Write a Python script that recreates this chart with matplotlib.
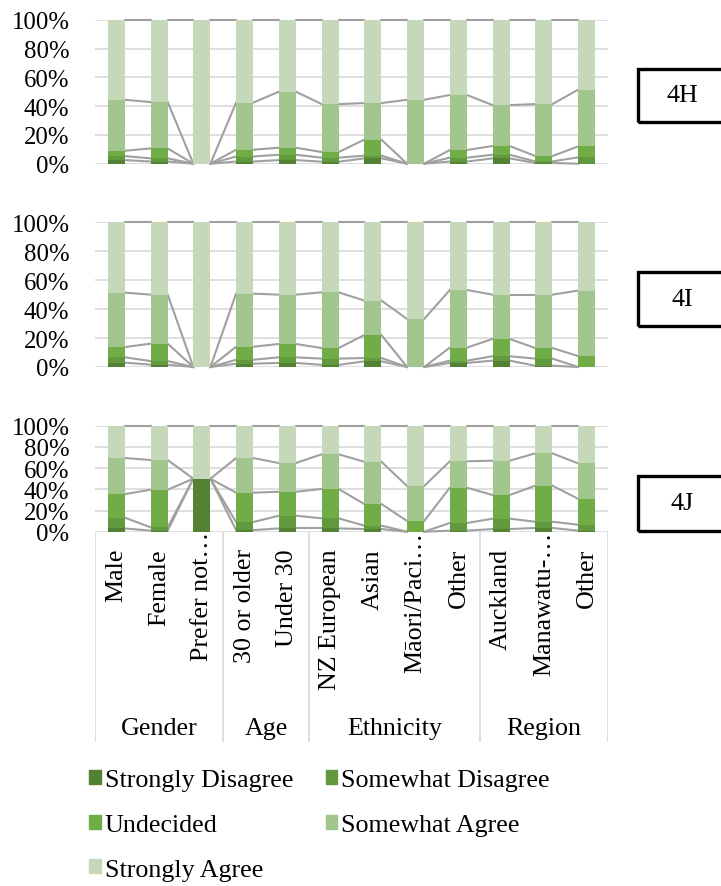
import numpy as np
import matplotlib.pyplot as plt
from matplotlib.patches import Patch, Rectangle

plt.rcParams['font.family'] = 'Liberation Serif'

categories = ["Male", "Female", "Prefer not…", "30 or older", "Under 30",
              "NZ European", "Asian", "Māori/Paci…", "Other",
              "Auckland", "Manawatu-…", "Other"]
groups = ["Gender", "Age", "Ethnicity", "Region"]
group_sizes = [3, 2, 4, 3]
series = ["Strongly Disagree", "Somewhat Disagree", "Undecided",
          "Somewhat Agree", "Strongly Agree"]
colors = ["#548235", "#62993e", "#70ad47", "#a2c58e", "#c5d9ba"]

# 4H
h_sd = [2.5, 1.5, 0, 1.5, 2.5, 1.4, 3.7, 0, 1.5, 3.7, 0.5, 0]
h_sod = [2.8, 2.2, 0, 3.5, 3.7, 2.8, 1.9, 0, 2.7, 2.5, 1.1, 4.4]
h_u = [3.7, 6.9, 0, 4.7, 4.9, 3.9, 11.1, 0, 5.3, 6.1, 3.7, 7.6]
h_sa = [35.4, 32.2, 0, 32.7, 38.9, 33.3, 25.4, 44.4, 38.2, 28.4, 36.1, 39.4]
h_sta = [55.6, 57.2, 100, 57.6, 50.0, 58.6, 57.9, 55.6, 52.3, 59.3, 58.6, 48.6]

# 4I
i_sd = [3.0, 1.6, 0, 2.3, 2.8, 1.5, 3.9, 0, 2.8, 4.4, 0.9, 0]
i_sod = [3.7, 2.5, 0, 2.7, 3.9, 4.3, 2.3, 0, 1.6, 3.0, 4.9, 0]
i_u = [7.1, 12.0, 0, 9.0, 9.2, 7.3, 15.9, 0, 9.0, 12.0, 7.3, 7.6]
i_sa = [37.6, 33.9, 0, 36.7, 34.1, 38.5, 23.8, 33.2, 39.8, 30.6, 36.9, 45.2]
i_sta = [48.6, 50.0, 100, 49.3, 50.0, 48.4, 54.1, 66.8, 46.8, 50.0, 50.0, 47.2]

# 4J
j_sd = [3.1, 1.0, 50, 1.5, 3.1, 3.1, 2.5, 0, 1.0, 2.5, 3.5, 1.0]
j_sod = [10.1, 3.1, 0, 7.6, 12.0, 9.5, 3.2, 0, 7.2, 9.8, 5.9, 5.6]
j_u = [22.3, 35.5, 0, 27.7, 22.6, 27.7, 20.4, 10.1, 33.3, 22.3, 34.0, 24.5]
j_sa = [34.0, 28.0, 0, 32.7, 27.1, 32.7, 39.9, 33.0, 24.9, 32.4, 30.5, 33.4]
j_sta = [30.5, 32.4, 50, 30.5, 35.2, 27.0, 34.0, 56.9, 33.6, 33.0, 26.1, 35.5]

panels = [("4H", [h_sd, h_sod, h_u, h_sa, h_sta]),
          ("4I", [i_sd, i_sod, i_u, i_sa, i_sta]),
          ("4J", [j_sd, j_sod, j_u, j_sa, j_sta])]

W, H = 721, 887
fig = plt.figure(figsize=(W / 100, H / 100), dpi=100)


def rect(x0, y0, x1, y1):
    return [x0 / W, 1 - y1 / H, (x1 - x0) / W, (y1 - y0) / H]


fs = 18.7
axes_px = [(20.7, 164.7), (223.3, 368), (426.7, 532.7)]
box_px = [(70, 123), (273, 327), (477, 532)]
x = np.arange(len(categories))
bw = 0.4

for (name, vals), (top, bot), (by0, by1) in zip(panels, axes_px, box_px):
    ax = fig.add_axes(rect(95, top, 608, bot))
    bottom = np.zeros(len(categories))
    for v, c in zip(vals, colors):
        v = np.array(v, dtype=float)
        ax.bar(x, v, bw, bottom=bottom, color=c, zorder=2)
        bottom = bottom + v
        # series lines joining the segment tops of neighbouring bars
        for k in range(len(x) - 1):
            ax.plot([x[k] + bw / 2, x[k + 1] - bw / 2], [bottom[k], bottom[k + 1]],
                    color="#a0a0a0", lw=1.5, zorder=1, clip_on=False)
    ax.set_xlim(-0.5, len(categories) - 0.5)
    ax.set_ylim(0, 100)
    ax.set_yticks(range(0, 101, 20))
    ax.set_yticklabels([f"{t}%" for t in range(0, 101, 20)], fontsize=17.8)
    ax.set_xticks([])
    ax.yaxis.grid(True, color="#d9d9d9", lw=1.2, zorder=0)
    ax.set_axisbelow(True)
    ax.tick_params(axis="y", length=0, pad=18.5)
    for s in ax.spines.values():
        s.set_visible(False)

    fig.add_artist(Rectangle((638 / W, 1 - by1 / H), (726 - 638) / W, (by1 - by0) / H,
                             transform=fig.transFigure, fill=False, lw=2.4, ec="black"))
    fig.text(682 / W, 1 - (by0 + by1) / 2 / H, name, ha="center", va="center", fontsize=fs)

# two-level category axis under the last panel
axl = fig.add_axes(rect(95, 533, 608, 743))
axl.set_xlim(-0.5, len(categories) - 0.5)
axl.set_ylim(743, 533)
axl.axis("off")
bounds = np.concatenate([[0], np.cumsum(group_sizes)]) - 0.5
axl.vlines(bounds, 533, 743, color="#d9d9d9", lw=1.2)
for k, cat in enumerate(categories):
    # shortened labels run up to the axis line
    y_top = 532 if cat.endswith("…") else 549
    axl.text(k, y_top, cat, rotation=90, ha="center", va="top", fontsize=fs,
             clip_on=False)
for g, lo, hi in zip(groups, bounds[:-1], bounds[1:]):
    axl.text((lo + hi) / 2, 735, g, ha="center", va="baseline", fontsize=fs)

handles = [Patch(color=c) for c in colors]
order = [0, 2, 4, 1, 3]
fig.legend([handles[k] for k in order], [series[k] for k in order],
           loc="upper left", bbox_to_anchor=(89 / W, 1 - 770 / H), ncol=2,
           frameon=False, fontsize=fs, borderpad=0, borderaxespad=0,
           handlelength=0.45, handleheight=0.45, handletextpad=0.15,
           columnspacing=1.25, labelspacing=0.88)

fig.savefig("out.png", dpi=100)
